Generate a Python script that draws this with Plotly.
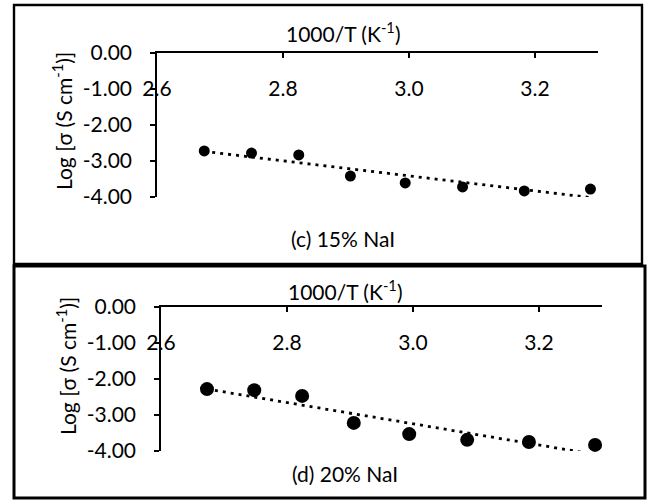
import numpy as np
import plotly.graph_objects as go

# ---- data ----
inv_T_c = [2.675, 2.750, 2.825, 2.907, 2.994, 3.085, 3.183, 3.288]
log_sigma_c = [-2.72, -2.78, -2.83, -3.42, -3.61, -3.72, -3.83, -3.78]

inv_T_d = [2.673, 2.748, 2.824, 2.906, 2.994, 3.086, 3.184, 3.289]
log_sigma_d = [-2.28, -2.31, -2.47, -3.22, -3.53, -3.69, -3.75, -3.83]

x_ticks = [2.6, 2.8, 3.0, 3.2]
y_ticks = [0, -1, -2, -3, -4]
panel_labels = ["(c) 15% NaI", "(d) 20% NaI"]
x_title = "1000/T (K<sup>-1</sup>)"
y_title = "Log [σ (S cm<sup>-1</sup>)]"

W, H = 654, 500
FONT = "Lato"
FS = 21


def fit_line(x, y):
    k, b = np.polyfit(x, y, 1)
    xs = np.array([x[0], x[-1]])
    return xs, k * xs + b


fig = go.Figure()

panels = [
    (inv_T_c, log_sigma_c, 11, "x", "y"),
    (inv_T_d, log_sigma_d, 14, "x2", "y2"),
]
for xs, ys, msize, xa, ya in panels:
    tx, ty = fit_line(xs, ys)
    fig.add_trace(go.Scatter(x=tx, y=ty, mode="lines", xaxis=xa, yaxis=ya,
                             line=dict(color="black", width=2.8, dash="3px,5px"),
                             showlegend=False, hoverinfo="skip"))
    fig.add_trace(go.Scatter(x=xs, y=ys, mode="markers", xaxis=xa, yaxis=ya,
                             marker=dict(color="black", size=msize),
                             cliponaxis=False, showlegend=False))


def px_x(p):
    return p / W


def px_y(p):
    return 1 - p / H


xaxis_common = dict(
    range=[2.6, 3.3], side="top", showline=True, linecolor="black", linewidth=1.5,
    ticks="inside", ticklen=5, tickcolor="black", tickwidth=1.5,
    tickvals=x_ticks, ticktext=[f"{v:.1f}" for v in x_ticks],
    ticklabelposition="inside", ticklabelstandoff=25, ticklabeloverflow="allow",
    showgrid=False, zeroline=False, automargin=False,
    tickfont=dict(family=FONT, size=FS, color="black"),
)
yaxis_common = dict(
    range=[-4, 0], showline=True, linecolor="black", linewidth=1.5,
    ticks="outside", ticklen=5, tickcolor="black", tickwidth=1.5,
    tickvals=y_ticks, ticktext=[f"{v:.2f}" for v in y_ticks],
    ticklabelstandoff=14,
    showgrid=False, zeroline=False, automargin=False,
    tickfont=dict(family=FONT, size=FS, color="black"),
)

fig.update_layout(
    width=W, height=H, margin=dict(l=0, r=0, t=0, b=0, autoexpand=False),
    paper_bgcolor="white", plot_bgcolor="white",
    font=dict(family=FONT, size=FS, color="black"),
    xaxis=dict(xaxis_common, domain=[px_x(157), px_x(598)], anchor="y"),
    yaxis=dict(yaxis_common, domain=[px_y(197), px_y(53)], anchor="x"),
    xaxis2=dict(xaxis_common, domain=[px_x(161), px_x(602)], anchor="y2"),
    yaxis2=dict(yaxis_common, domain=[px_y(451), px_y(307)], anchor="x2"),
)

# panel frames
fig.add_shape(type="rect", xref="paper", yref="paper",
              x0=px_x(14), x1=px_x(642), y0=px_y(264), y1=px_y(5),
              line=dict(color="black", width=2.4))
fig.add_shape(type="rect", xref="paper", yref="paper",
              x0=px_x(14), x1=px_x(645), y0=px_y(498), y1=px_y(266),
              line=dict(color="black", width=3))

# axis titles and panel captions
for label, yc, xc, ang in [(x_title, 32, 343, 0), (x_title, 290, 345, 0),
                           (y_title, 121, 62, -90), (y_title, 366, 66, -90),
                           (panel_labels[0], 238, 343, 0), (panel_labels[1], 473, 345, 0)]:
    fig.add_annotation(text=label, xref="paper", yref="paper",
                       x=px_x(xc), y=px_y(yc), xanchor="center", yanchor="middle",
                       textangle=ang, showarrow=False,
                       font=dict(family=FONT, size=FS, color="black"))

fig.write_html("out.html")
